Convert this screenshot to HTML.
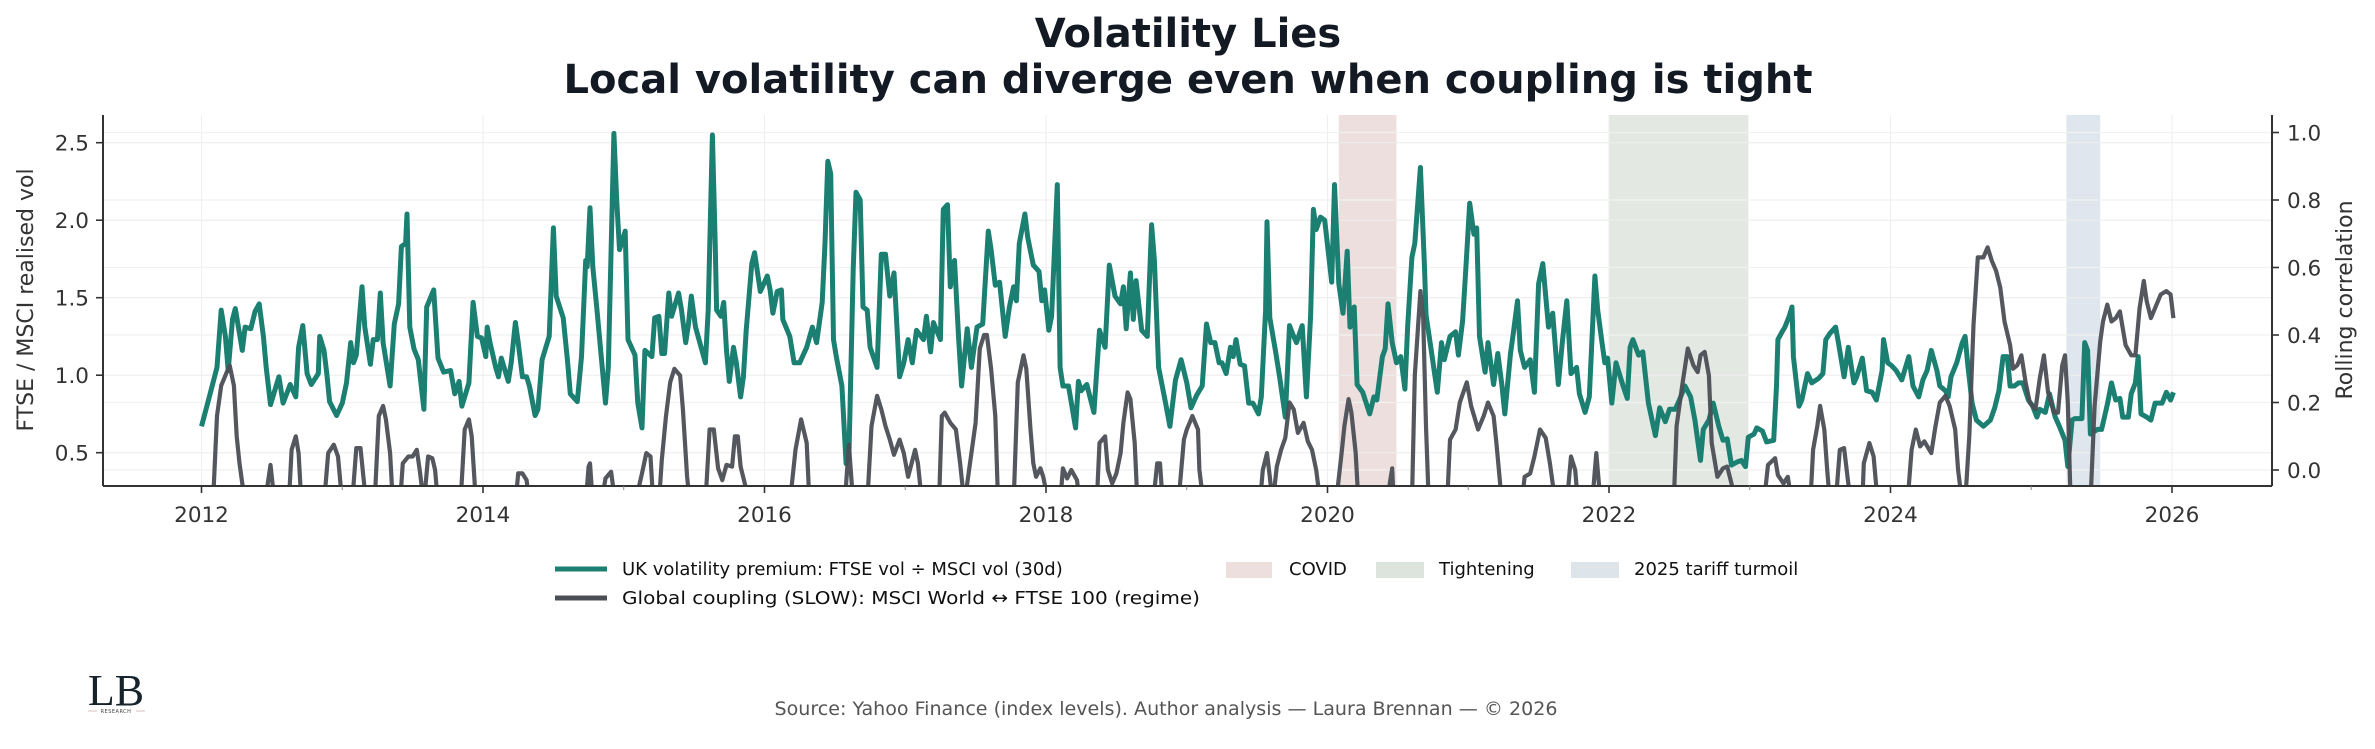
<!DOCTYPE html>
<html><head><meta charset="utf-8"><style>
html,body{margin:0;padding:0;background:#fff;}
svg{display:block;font-family:"DejaVu Sans","Liberation Sans",sans-serif;}
</style></head><body>
<svg id="chart" width="2375" height="749" viewBox="0 0 2375 749" xmlns="http://www.w3.org/2000/svg">
<defs><clipPath id="plotclip"><rect x="103" y="115" width="2169" height="371"/></clipPath></defs>
<text x="1188" y="47" text-anchor="middle" font-size="40" font-weight="bold" fill="#141a24">Volatility Lies</text>
<text x="1188" y="93" text-anchor="middle" font-size="40" font-weight="bold" fill="#141a24" textLength="1249" lengthAdjust="spacingAndGlyphs">Local volatility can diverge even when coupling is tight</text>
<g id="shade"></g>
<g id="grid"></g>
<g id="series" clip-path="url(#plotclip)"></g>
<g id="axes"></g>
<text transform="translate(33,300) rotate(-90)" text-anchor="middle" font-size="22" fill="#333">FTSE / MSCI realised vol</text>
<text transform="translate(2352,300) rotate(-90)" text-anchor="middle" font-size="22" fill="#333">Rolling correlation</text>
<g font-size="18" fill="#111">
<g><line x1="555" y1="569" x2="607" y2="569" stroke="#1b7f72" stroke-width="5"/><text x="622" y="575">UK volatility premium: FTSE vol ÷ MSCI vol (30d)</text></g>
<g><line x1="555" y1="598" x2="607" y2="598" stroke="#4b4f55" stroke-width="5"/><text x="622" y="604" textLength="578" lengthAdjust="spacingAndGlyphs">Global coupling (SLOW): MSCI World ↔ FTSE 100 (regime)</text></g>
<g><rect x="1226" y="562" width="46" height="16" fill="#ecdfdd"/><text x="1289" y="575">COVID</text></g>
<g><rect x="1376" y="562" width="48" height="16" fill="#dde3dd"/><text x="1439" y="575">Tightening</text></g>
<g><rect x="1571" y="562" width="48" height="16" fill="#dde4ea"/><text x="1634" y="575">2025 tariff turmoil</text></g>
</g>
<text x="1166" y="715" text-anchor="middle" font-size="19" fill="#555" textLength="783" lengthAdjust="spacingAndGlyphs">Source: Yahoo Finance (index levels). Author analysis — Laura Brennan — © 2026</text>
<g>
<text x="116" y="705" text-anchor="middle" font-family="'Liberation Serif',serif" font-size="44" fill="#16232b">LB</text>
<line x1="88" y1="711" x2="97" y2="711" stroke="#d9bfc2" stroke-width="1"/>
<line x1="136" y1="711" x2="145" y2="711" stroke="#d9bfc2" stroke-width="1"/>
<text x="116" y="713" text-anchor="middle" font-size="5" fill="#444" letter-spacing="0.5">RESEARCH</text>
</g>
</svg>
<script>
// Years since 2012 and values
const tealT=[0.00,0.05,0.11,0.14,0.17,0.19,0.22,0.24,0.29,0.31,0.35,0.38,0.41,0.44,0.46,0.49,0.55,0.58,0.63,0.67,0.69,0.72,0.75,0.78,0.83,0.84,0.87,0.89,0.91,0.96,1.00,1.03,1.06,1.08,1.10,1.14,1.16,1.20,1.22,1.25,1.27,1.29,1.34,1.37,1.40,1.42,1.45,1.46,1.48,1.51,1.54,1.58,1.60,1.65,1.68,1.72,1.77,1.80,1.83,1.85,1.90,1.93,1.96,1.99,2.02,2.03,2.05,2.09,2.11,2.13,2.18,2.20,2.23,2.25,2.28,2.31,2.33,2.37,2.39,2.42,2.47,2.50,2.52,2.57,2.60,2.62,2.67,2.70,2.73,2.74,2.76,2.78,2.81,2.87,2.89,2.93,2.95,2.97,3.01,3.03,3.08,3.10,3.13,3.15,3.20,3.22,3.25,3.27,3.29,3.32,3.34,3.39,3.41,3.44,3.46,3.48,3.51,3.54,
3.58,3.60,3.63,3.65,3.66,3.69,3.71,3.73,3.75,3.78,3.80,3.83,3.85,3.87,3.91,3.93,3.97,4.02,4.04,4.06,4.09,4.12,4.13,4.18,4.21,4.25,4.30,4.34,4.37,4.41,4.43,4.45,4.47,4.49,4.51,4.55,4.58,4.60,4.63,4.65,4.68,4.70,4.73,4.75,4.80,4.83,4.86,4.89,4.92,4.94,4.96,4.99,5.02,5.05,5.08,5.13,5.15,5.18,5.20,5.25,5.27,5.30,5.32,5.35,5.38,5.40,5.44,5.47,5.51,5.55,5.59,5.61,5.64,5.67,5.71,5.74,5.77,5.79,5.81,5.85,5.87,5.91,5.95,5.97,5.99,6.02,6.04,6.08,6.10,6.12,6.16,6.21,6.23,6.25,6.29,6.34,6.38,6.42,6.45,6.49,6.53,6.55,6.57,6.60,6.62,6.64,6.68,6.72,6.75,6.77,6.80,6.85,6.88,6.92,6.96,7.00,7.03,7.07,7.11,7.14,7.17,7.20,7.23,
7.25,7.28,7.31,7.33,7.35,7.38,7.41,7.44,7.47,7.51,7.53,7.56,7.57,7.59,7.63,7.66,7.70,7.73,7.76,7.78,7.82,7.85,7.88,7.90,7.92,7.95,7.98,8.03,8.05,8.08,8.11,8.14,8.16,8.19,8.21,8.25,8.30,8.33,8.35,8.39,8.41,8.43,8.46,8.49,8.52,8.55,8.57,8.60,8.62,8.66,8.69,8.70,8.74,8.78,8.81,8.83,8.87,8.91,8.93,8.96,8.98,9.01,9.04,9.06,9.08,9.12,9.14,9.18,9.21,9.24,9.26,9.30,9.32,9.35,9.37,9.40,9.44,9.47,9.50,9.53,9.57,9.60,9.64,9.67,9.70,9.73,9.77,9.79,9.83,9.86,9.90,9.92,9.95,9.97,9.99,10.02,10.05,10.10,10.13,10.15,10.17,10.21,10.24,10.28,10.33,10.36,10.40,10.43,10.47,10.50,10.54,10.58,10.61,10.65,10.67,10.71,10.74,10.78,
10.81,10.84,10.87,10.91,10.94,10.97,10.99,11.03,11.05,11.09,11.12,11.17,11.19,11.20,11.23,11.25,11.28,11.30,11.31,11.35,11.37,11.41,11.44,11.49,11.52,11.54,11.57,11.61,11.63,11.67,11.70,11.74,11.76,11.80,11.83,11.87,11.90,11.94,11.95,11.98,12.01,12.04,12.08,12.10,12.13,12.16,12.20,12.23,12.26,12.29,12.33,12.35,12.39,12.41,12.43,12.47,12.51,12.53,12.55,12.58,12.61,12.66,12.71,12.74,12.77,12.80,12.83,12.85,12.88,12.91,12.94,12.98,13.01,13.04,13.06,13.10,13.13,13.17,13.20,13.24,13.26,13.29,13.31,13.36,13.38,13.40,13.42,13.47,13.50,13.54,13.57,13.60,13.63,13.65,13.69,13.71,13.74,13.76,13.78,13.82,13.85,13.88,13.93,13.96,13.99,14.01];
const tealV=[0.67,0.84,1.05,1.42,1.25,1.03,1.36,1.43,1.16,1.31,1.30,1.41,1.46,1.25,1.05,0.81,0.99,0.82,0.94,0.86,1.18,1.32,1.01,0.94,1.01,1.25,1.16,1.01,0.83,0.74,0.82,0.95,1.21,1.08,1.13,1.57,1.31,1.07,1.23,1.23,1.53,1.21,0.93,1.33,1.46,1.83,1.85,2.04,1.31,1.17,1.10,0.78,1.44,1.55,1.11,1.02,1.03,0.88,0.96,0.80,0.95,1.47,1.25,1.24,1.12,1.31,1.21,1.05,0.99,1.11,0.96,1.08,1.34,1.21,0.99,0.99,0.93,0.74,0.78,1.10,1.25,1.95,1.51,1.37,1.10,0.88,0.83,1.12,1.74,1.70,2.08,1.70,1.42,0.82,1.05,2.56,2.13,1.81,1.93,1.23,1.13,0.82,0.66,1.16,1.12,1.37,1.38,1.14,1.14,1.53,1.38,1.53,1.42,1.21,1.33,1.51,1.31,1.21,
1.08,1.42,2.55,1.85,1.42,1.38,1.47,1.16,0.96,1.18,1.08,0.86,0.99,1.29,1.72,1.79,1.54,1.64,1.55,1.40,1.54,1.55,1.36,1.25,1.08,1.08,1.18,1.31,1.21,1.47,1.85,2.38,2.30,1.23,1.12,0.93,0.43,0.47,1.68,2.18,2.13,1.44,1.42,1.18,1.05,1.78,1.78,1.51,1.66,1.33,0.99,1.08,1.23,1.08,1.29,1.23,1.38,1.15,1.34,1.23,2.07,2.10,1.57,1.74,1.23,0.93,1.30,1.05,1.31,1.33,1.93,1.81,1.58,1.60,1.25,1.44,1.57,1.48,1.85,2.04,1.89,1.71,1.67,1.48,1.55,1.29,1.38,2.23,1.05,0.93,0.93,0.66,0.96,0.90,0.94,0.76,1.29,1.18,1.71,1.51,1.46,1.57,1.30,1.66,1.36,1.61,1.29,1.25,1.97,1.74,1.05,0.82,0.67,0.97,1.10,0.95,0.79,0.87,0.93,1.33,1.21,1.21,1.08,
1.08,1.01,1.18,1.12,1.23,1.07,1.06,0.82,0.82,0.75,0.86,1.42,1.99,1.37,1.16,0.99,0.73,1.32,1.25,1.21,1.32,0.86,1.38,2.07,1.94,2.02,2.00,1.60,2.23,1.59,1.40,1.80,1.31,1.44,0.94,0.89,0.75,0.86,0.84,1.12,1.17,1.46,1.21,1.08,1.12,0.91,1.32,1.76,1.85,2.34,1.68,1.39,1.14,0.89,1.21,1.10,1.25,1.28,1.13,1.35,1.64,2.11,1.91,1.95,1.25,1.02,1.21,0.94,1.14,0.93,0.75,1.14,1.27,1.48,1.16,1.05,1.10,0.89,1.59,1.72,1.31,1.40,0.94,1.23,1.48,1.01,1.05,0.88,0.76,0.86,1.64,1.42,1.21,1.08,1.11,0.82,1.08,0.93,0.85,1.18,1.23,1.13,1.15,0.82,0.61,0.79,0.70,0.78,0.78,0.84,0.93,0.86,0.71,0.45,0.65,0.71,0.82,0.67,
0.58,0.59,0.42,0.44,0.45,0.41,0.60,0.62,0.66,0.64,0.57,0.58,0.93,1.23,1.28,1.31,1.38,1.44,1.12,0.80,0.84,1.01,0.95,0.98,1.01,1.23,1.27,1.31,1.21,0.99,1.18,0.95,0.99,1.11,0.90,0.89,0.84,1.03,1.23,1.08,1.06,1.03,0.97,1.03,1.12,0.93,0.86,0.97,1.03,1.16,1.03,0.93,0.90,0.86,0.99,1.08,1.21,1.25,1.06,0.82,0.71,0.67,0.71,0.79,0.90,1.12,1.12,0.93,0.93,0.95,0.95,0.84,0.80,0.73,0.78,0.76,0.88,0.73,0.67,0.58,0.41,0.71,0.72,0.72,1.21,1.16,0.62,0.65,0.65,0.81,0.95,0.84,0.85,0.73,0.73,0.88,0.95,1.12,0.75,0.73,0.71,0.82,0.82,0.89,0.84,0.89];
const grayT=[0.07,0.11,0.14,0.18,0.20,0.23,0.25,0.27,0.31,0.45,0.49,0.52,0.62,0.64,0.67,0.69,0.71,0.87,0.90,0.94,0.97,1.00,1.07,1.10,1.13,1.15,1.17,1.23,1.26,1.29,1.31,1.34,1.36,1.41,1.43,1.47,1.50,1.53,1.55,1.58,1.61,1.64,1.66,1.68,1.84,1.87,1.90,1.92,1.95,2.23,2.25,2.28,2.31,2.33,2.73,2.75,2.76,2.78,2.84,2.87,2.91,2.94,3.08,3.13,3.16,3.19,3.21,3.25,3.27,3.30,3.33,3.36,3.40,3.42,3.45,3.47,
3.58,3.61,3.64,3.67,3.70,3.73,3.77,3.79,3.81,3.83,3.86,3.89,4.18,4.22,4.26,4.30,4.32,4.57,4.60,4.63,4.73,4.76,4.80,4.83,4.86,4.89,4.92,4.96,4.99,5.02,5.07,5.09,5.12,5.24,5.26,5.28,5.32,5.36,5.39,5.42,5.46,5.50,5.53,5.56,5.58,5.61,5.64,5.66,5.77,5.80,5.84,5.86,5.89,5.91,5.93,5.96,5.98,6.02,6.10,6.12,6.15,6.18,6.22,6.24,6.36,6.38,6.42,6.44,6.47,6.50,6.53,6.55,6.58,6.60,6.63,6.65,6.76,6.79,6.81,6.83,6.94,6.98,7.00,7.04,7.08,7.09,7.12,
7.52,7.54,7.57,7.59,7.61,7.64,7.67,7.70,7.73,7.76,7.79,7.83,7.86,7.89,7.92,7.95,8.06,8.10,8.12,8.15,8.17,8.20,8.22,8.42,8.46,8.47,8.60,8.62,8.66,8.68,8.70,8.72,8.85,8.87,8.91,8.94,8.99,9.02,9.07,9.11,9.14,9.18,9.20,9.24,9.38,9.40,9.44,9.47,9.51,9.55,9.58,9.62,9.70,9.73,9.76,9.78,9.88,9.91,9.94,10.46,10.48,10.52,10.56,10.60,10.63,10.65,10.68,10.71,10.73,10.77,10.81,
10.84,10.87,10.90,11.10,11.13,11.18,11.20,11.24,11.27,11.30,11.43,11.45,11.48,11.50,11.53,11.55,11.57,11.61,11.64,11.67,11.70,11.72,11.80,11.81,11.85,11.88,11.91,12.12,12.15,12.18,12.21,12.24,12.29,12.32,12.35,12.39,12.42,12.46,12.48,12.51,12.53,12.56,12.59,12.62,12.66,12.69,12.72,12.75,12.78,12.81,12.85,12.87,12.90,12.93,12.96,12.99,13.03,13.06,13.09,13.12,13.16,13.19,13.22,13.24,13.26,13.28,13.42,13.45,13.49,13.51,13.54,13.57,13.60,13.63,13.67,13.71,13.74,13.77,13.80,13.82,13.85,13.88,13.92,13.96,13.99,14.01];
const grayV=[-0.2,0.16,0.25,0.29,0.31,0.25,0.10,0.02,-0.1,-0.1,0.015,-0.1,-0.1,0.06,0.10,0.05,-0.1,-0.1,0.05,0.075,0.04,-0.1,-0.1,0.065,0.065,-0.02,-0.1,-0.1,0.16,0.19,0.15,0.05,-0.1,-0.1,0.02,0.04,0.04,0.06,0.0,-0.1,0.04,0.035,0.0,-0.1,-0.1,0.12,0.15,0.10,-0.1,-0.1,-0.01,-0.01,-0.03,-0.1,-0.1,0.01,0.02,-0.1,-0.1,-0.025,-0.005,-0.1,-0.1,-0.01,0.05,0.04,-0.1,-0.1,0.03,0.16,0.26,0.30,0.28,0.18,-0.02,-0.1,
-0.1,0.12,0.12,0.005,-0.03,0.015,0.01,0.10,0.10,0.01,-0.04,-0.1,-0.1,0.06,0.15,0.08,-0.1,-0.1,0.075,-0.1,-0.1,0.13,0.22,0.18,0.13,0.09,0.045,0.09,0.05,-0.02,0.06,0.02,-0.1,-0.1,0.16,0.17,0.14,0.12,0.02,-0.1,0.02,0.14,0.36,0.40,0.40,0.30,0.16,-0.1,-0.1,0.26,0.34,0.30,0.12,0.02,-0.02,0.005,-0.02,-0.1,-0.1,0.005,-0.025,0.0,-0.03,-0.1,-0.1,0.08,0.10,0.0,-0.04,-0.01,0.05,0.14,0.23,0.21,0.08,-0.1,-0.1,0.02,0.02,-0.1,-0.1,0.09,0.12,0.16,0.12,0.0,-0.1,
-0.1,0.0,0.05,-0.02,-0.1,0.01,0.06,0.095,0.20,0.18,0.11,0.14,0.085,0.06,0.0,-0.1,-0.1,0.05,0.13,0.21,0.17,0.05,-0.1,-0.1,0.005,-0.1,-0.1,0.28,0.53,0.45,0.13,-0.1,-0.1,0.09,0.12,0.20,0.26,0.19,0.12,0.16,0.20,0.16,0.08,-0.1,-0.1,-0.02,-0.01,0.04,0.12,0.095,0.02,-0.1,-0.1,0.04,0.0,-0.1,-0.1,0.05,-0.1,-0.1,0.13,0.25,0.36,0.31,0.29,0.34,0.35,0.28,0.08,-0.02,0.005,
0.01,-0.04,-0.1,-0.1,0.015,0.035,-0.015,-0.04,-0.02,-0.1,-0.1,0.06,0.13,0.19,0.12,0.0,-0.1,-0.1,0.06,0.065,-0.04,-0.1,-0.1,0.02,0.08,0.04,-0.1,-0.1,0.06,0.12,0.07,0.085,0.05,0.13,0.20,0.22,0.19,0.12,0.0,-0.1,-0.1,0.10,0.43,0.63,0.63,0.66,0.62,0.59,0.54,0.44,0.37,0.30,0.31,0.34,0.26,0.20,0.18,0.27,0.34,0.23,0.17,0.17,0.31,0.34,0.20,-0.1,-0.1,0.19,0.38,0.44,0.49,0.44,0.45,0.47,0.37,0.34,0.34,0.48,0.56,0.50,0.45,0.48,0.52,0.53,0.52,0.45];
const baseYear=2012;
const xTickYears=[2012,2014,2016,2018,2020,2022,2024,2026];
const xMinorYears=[2013,2015,2017,2019,2021,2023,2025];
const leftTicks=[0.5,1.0,1.5,2.0,2.5];
const rightTicks=[0.0,0.2,0.4,0.6,0.8,1.0];
const shadeNames=['covid','tightening','tariff-2025'];
const shadeStart=[2020.08,2022.0,2025.25];
const shadeEnd=[2020.49,2022.99,2025.49];
const shadeColors=['#ecdfdd','#e3e8e2','#dfe6ed'];

const NS='http://www.w3.org/2000/svg';
const X=y=>201.5+(y-2012)*140.75;
const YL=v=>452.7-(v-0.5)*155;
const YR=r=>470-r*337.5;
const PL=103,PR=2272,PT=115,PB=486;
function mk(tag,attrs,parent){const e=document.createElementNS(NS,tag);for(const k in attrs)e.setAttribute(k,attrs[k]);parent.appendChild(e);return e;}
const shade=document.getElementById('shade'),grid=document.getElementById('grid'),series=document.getElementById('series'),axes=document.getElementById('axes');
for(let i=0;i<shadeStart.length;i++){
  const r=mk('rect',{x:X(shadeStart[i]),y:PT,width:X(shadeEnd[i])-X(shadeStart[i]),height:PB-PT,fill:shadeColors[i]},shade);
  
  
}
xTickYears.forEach(y=>{
  const l=mk('line',{x1:X(y),x2:X(y),y1:PT,y2:PB,stroke:'#eeeeee','stroke-width':1},grid);
  
  
});
leftTicks.forEach(v=>{
  const l=mk('line',{x1:PL,x2:PR,y1:YL(v),y2:YL(v),stroke:'#eeeeee','stroke-width':1.2},grid);
  
  
});
rightTicks.forEach(v=>{
  const l=mk('line',{x1:PL,x2:PR,y1:YR(v),y2:YR(v),stroke:'#f1f1f1','stroke-width':1.2},grid);
  
  
});
function path(T,V,yf){return T.map((t,i)=>(i?'L':'M')+X(baseYear+t).toFixed(1)+','+yf(V[i]).toFixed(1)).join('');}
const tp=mk('path',{d:path(tealT,tealV,YL),fill:'none',stroke:'#1b7f72','stroke-width':5,'stroke-linejoin':'round'},series);


const gp=mk('path',{d:path(grayT,grayV,YR),fill:'none',stroke:'#4b4f55','stroke-width':4.2,'stroke-linejoin':'round','stroke-opacity':0.95},series);


[[PL,PT,PL,PB],[PL,PB,PR,PB],[PR,PT,PR,PB]].forEach((s,i)=>{
  const l=mk('line',{x1:s[0],y1:s[1],x2:s[2],y2:s[3],stroke:'#333','stroke-width':2},axes);
  
  
});
xTickYears.forEach(y=>{
  const t=mk('line',{x1:X(y),x2:X(y),y1:PB,y2:PB+7,stroke:'#333','stroke-width':1.6},axes);
  
  
  const tx=mk('text',{x:X(y),y:PB+36,'text-anchor':'middle','font-size':21.5,fill:'#333'},axes);
  tx.textContent=y;
  
  
});
xMinorYears.forEach(y=>{
  const t=mk('line',{x1:X(y),x2:X(y),y1:PB,y2:PB+4,stroke:'#888','stroke-width':1},axes);
  
  
});
leftTicks.forEach(v=>{
  const t=mk('line',{x1:PL-7,x2:PL,y1:YL(v),y2:YL(v),stroke:'#333','stroke-width':1.6},axes);
  
  
  const tx=mk('text',{x:PL-14,y:YL(v)+8,'text-anchor':'end','font-size':21.5,fill:'#333'},axes);
  tx.textContent=v.toFixed(1);
  
  
});
rightTicks.forEach(v=>{
  const t=mk('line',{x1:PR,x2:PR+7,y1:YR(v),y2:YR(v),stroke:'#333','stroke-width':1.6},axes);
  
  
  const tx=mk('text',{x:PR+15,y:YR(v)+8,'text-anchor':'start','font-size':21.5,fill:'#333'},axes);
  tx.textContent=v.toFixed(1);
  
  
});
</script>
</body></html>
